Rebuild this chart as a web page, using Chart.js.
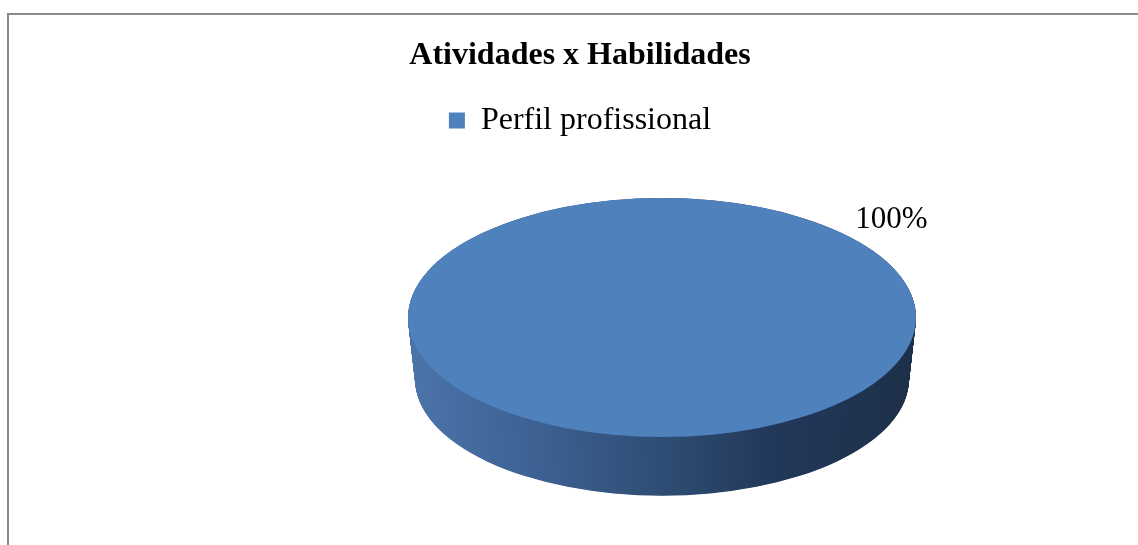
<!DOCTYPE html>
<html lang="pt">
<head>
    <meta charset="UTF-8">
    <title>Atividades x Habilidades</title>
    <script src="https://cdn.jsdelivr.net/npm/chart.js"></script>
    <style>
        body {
            margin: 0;
            padding: 0;
            background: #ffffff;
            overflow: hidden;
        }
        .wrap {
            position: relative;
            width: 1138px;
            height: 545px;
        }
        .frame {
            position: absolute;
            left: 7px;
            top: 13px;
            width: 1200px;
            height: 600px;
            border-left: 2px solid #8a8a8a;
            border-top: 2px solid #8a8a8a;
        }
        canvas {
            position: absolute;
            left: 0;
            top: 0;
        }
    </style>
</head>
<body>
<div class="wrap">
    <div class="frame"></div>
    <canvas id="pie" width="1138" height="545"></canvas>
</div>
<script>
    // data
    const categories = ["Perfil profissional"];
    const values = [100];
    const valueLabels = ["100%"];

    const chartTitle = "Atividades x Habilidades";
    const sliceColor = "#4F81BD";

    // where the flattened disc sits and how thick it is
    const disc = { cx: 662, cy: 317.5, squash: 119.5 / 254, depth: 62, shrink: 0.028 };

    const pie3d = {
        id: "pie3d",
        beforeDatasetsDraw(chart) {
            const ctx = chart.ctx;
            const arc = chart.getDatasetMeta(0).data[0];
            const { x, y, outerRadius, startAngle, endAngle } =
                arc.getProps(["x", "y", "outerRadius", "startAngle", "endAngle"], true);

            // side wall: stack of shrinking ellipses going down
            const steps = 124;
            for (let i = steps; i >= 0; i--) {
                const t = i / steps;
                const s = 1 - t * disc.shrink;
                ctx.save();
                ctx.translate(disc.cx, disc.cy + t * disc.depth);
                ctx.scale(s, s * disc.squash);
                const g = ctx.createLinearGradient(-outerRadius, 0, outerRadius, 0);
                g.addColorStop(0, "#4b74ab");
                g.addColorStop(0.25, "#3d6192");
                g.addColorStop(0.5, "#2f4d74");
                g.addColorStop(0.72, "#22385a");
                g.addColorStop(1, "#1e3049");
                ctx.fillStyle = g;
                ctx.beginPath();
                ctx.moveTo(0, 0);
                ctx.arc(0, 0, outerRadius, startAngle, endAngle);
                ctx.closePath();
                ctx.fill();
                ctx.restore();
            }

            // top face is drawn by Chart.js, flattened into an ellipse
            ctx.save();
            ctx.translate(disc.cx, disc.cy);
            ctx.scale(1, disc.squash);
            ctx.translate(-x, -y);
        },
        afterDatasetsDraw(chart) {
            const ctx = chart.ctx;
            ctx.restore();

            const arc = chart.getDatasetMeta(0).data[0];
            const r = arc.outerRadius * 1.2;
            const a = -42 * Math.PI / 180;
            ctx.save();
            ctx.font = "31px 'Liberation Serif'";
            ctx.fillStyle = "#000000";
            ctx.textAlign = "center";
            ctx.textBaseline = "middle";
            ctx.fillText(valueLabels[0], disc.cx + 3 + r * Math.cos(a), disc.cy - 2 + r * disc.squash * Math.sin(a));
            ctx.restore();
        }
    };

    new Chart(document.getElementById("pie"), {
        type: "pie",
        data: {
            labels: categories,
            datasets: [{
                data: values,
                backgroundColor: sliceColor,
                borderWidth: 0,
                clip: false
            }]
        },
        options: {
            responsive: false,
            animation: false,
            radius: 254,
            layout: { padding: { left: 22, top: 0, right: 0, bottom: 0 } },
            plugins: {
                title: {
                    display: true,
                    text: chartTitle,
                    color: "#000000",
                    font: { family: "'Liberation Serif'", size: 32, weight: "bold" },
                    padding: { top: 37, bottom: 19 }
                },
                legend: {
                    display: true,
                    position: "top",
                    labels: {
                        color: "#000000",
                        boxWidth: 16,
                        boxHeight: 16,
                        font: { family: "'Liberation Serif'", size: 32 }
                    }
                },
                tooltip: { enabled: false }
            }
        },
        plugins: [pie3d]
    });
</script>
</body>
</html>
